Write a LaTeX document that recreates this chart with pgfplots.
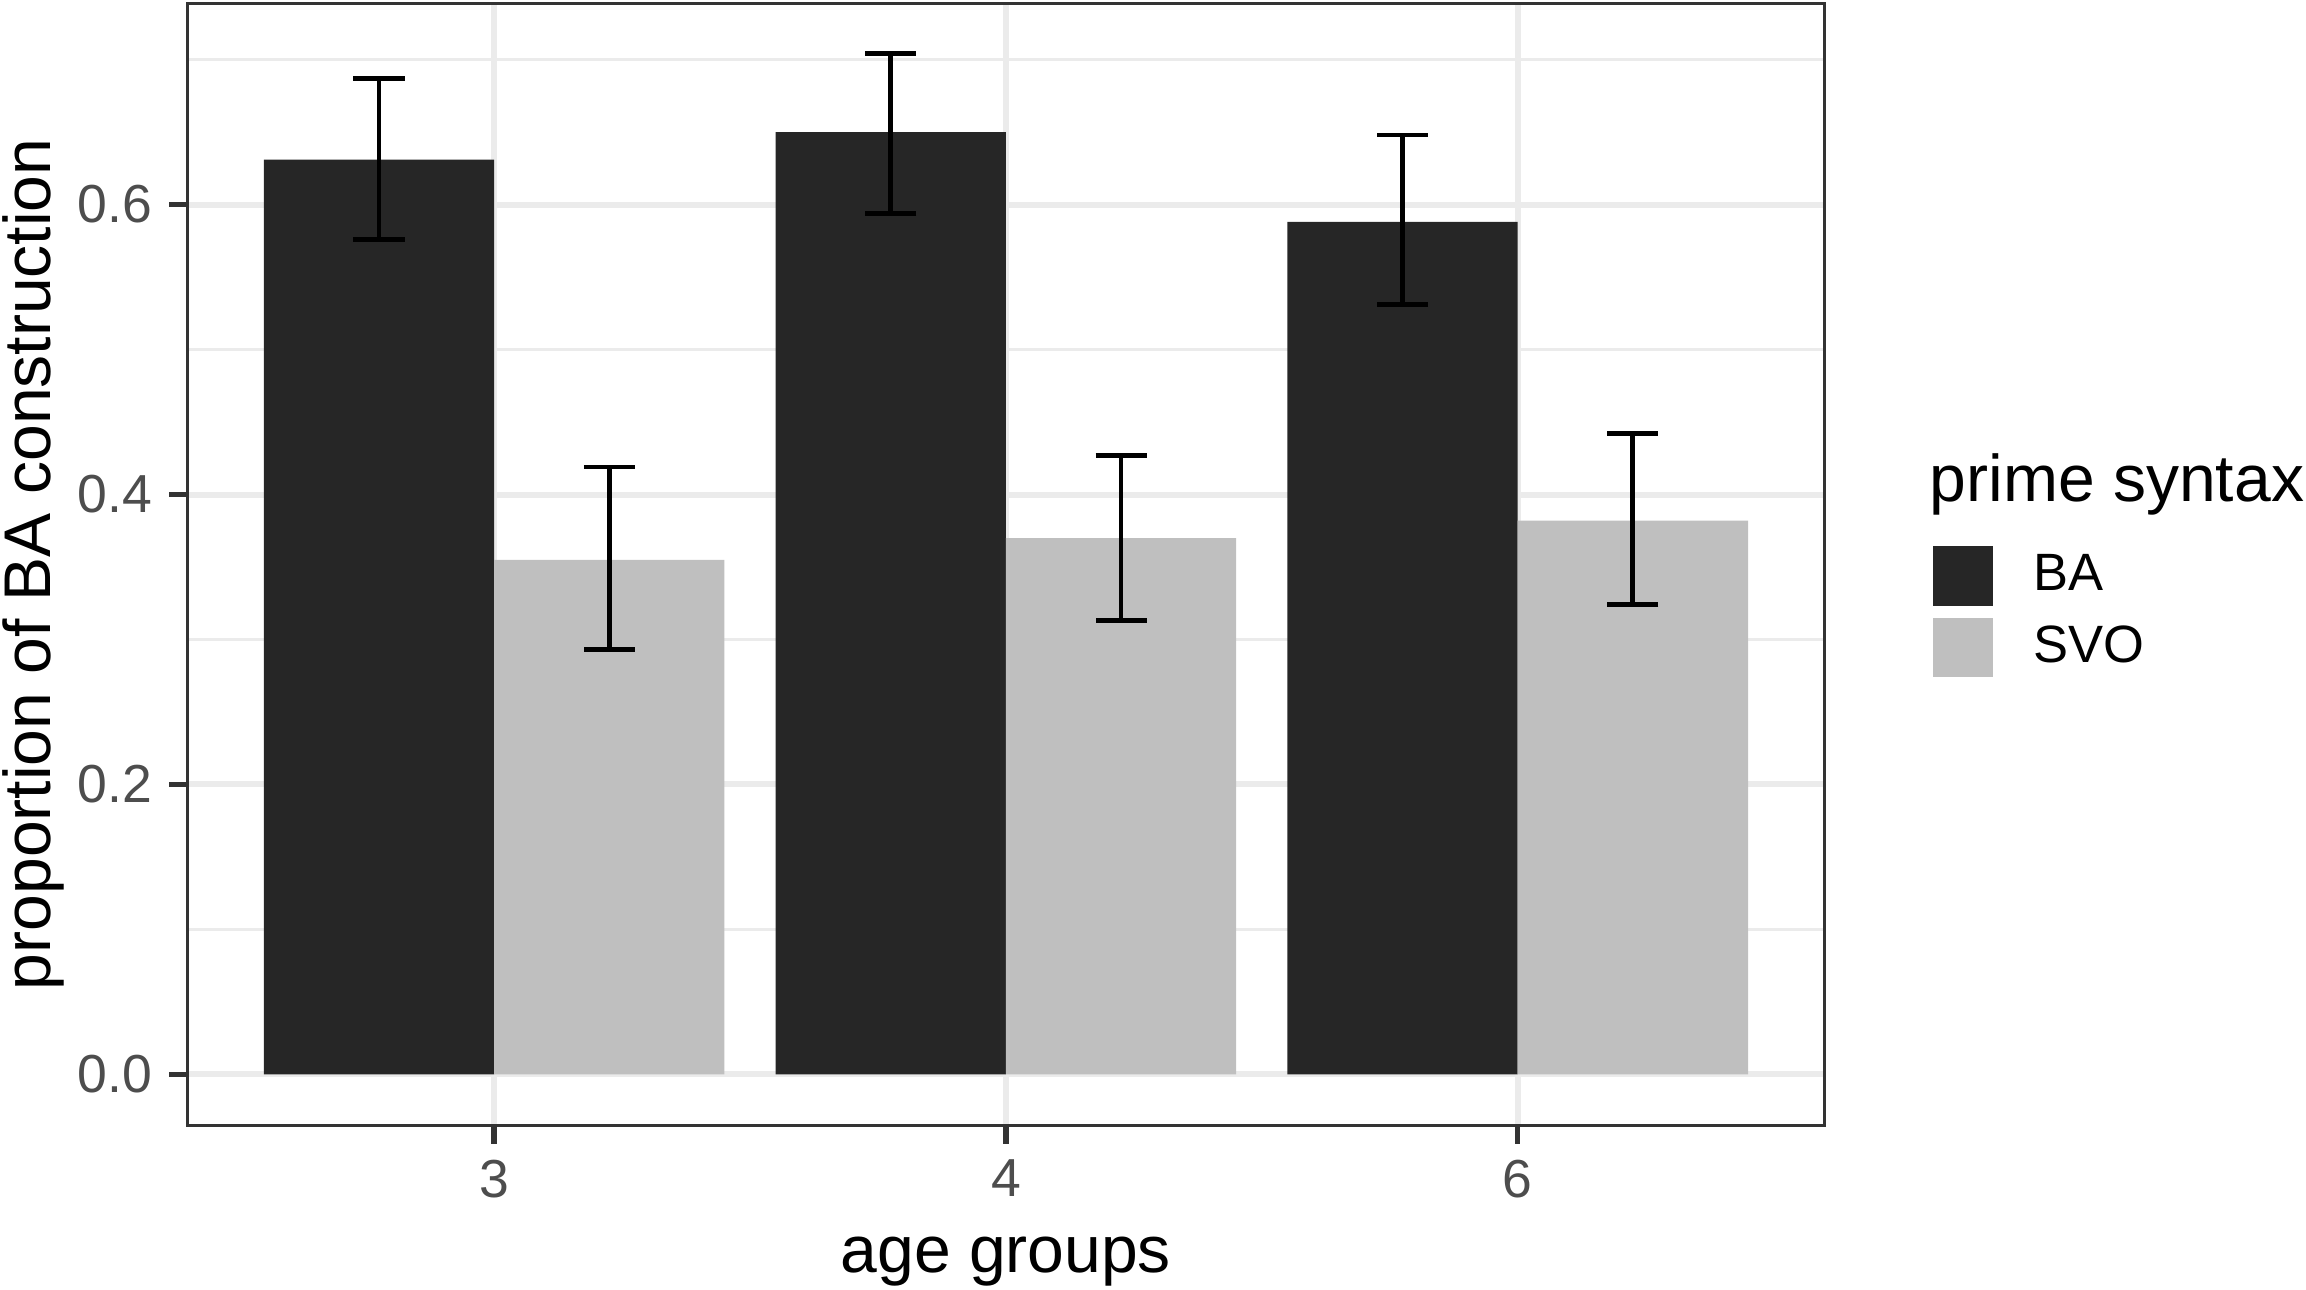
\documentclass[border=0pt]{standalone}
\usepackage{pgfplots}
\pgfplotsset{compat=1.18}
\usepackage{fontspec}
\setmainfont{Liberation Sans}
\definecolor{badark}{HTML}{262626}
\definecolor{svolight}{HTML}{BFBFBF}
\definecolor{gridgrey}{HTML}{EBEBEB}
\definecolor{grey20}{HTML}{333333}
\definecolor{grey30}{HTML}{4D4D4D}
\newcommand{\ticksize}{\fontsize{10.7}{12}\selectfont}
\newcommand{\titlesize}{\fontsize{13.2}{15}\selectfont}
\newcommand{\legsize}{\fontsize{10.5}{12}\selectfont}
\begin{document}
\begin{tikzpicture}
\path[use as bounding box] (-37.4pt,-32.8pt) rectangle (423.6pt,225.0pt);
\begin{axis}[
  name=ax,
  at={(0pt,0pt)}, anchor=south west,
  scale only axis, width=327.4pt, height=224.4pt,
  xmin=0.4, xmax=3.6, ymin=-0.0352, ymax=0.739,
  xtick={1,2,3}, xticklabels={3,4,6},
  ytick={0,0.2,0.4,0.6}, yticklabels={0.0,0.2,0.4,0.6},
  minor ytick={0.1,0.3,0.5,0.7},
  /pgf/number format/assume math mode=true,
  tick pos=left, tick align=outside,
  major tick length=3.6pt, minor tick length=0pt,
  major tick style={grey20, line width=1.07pt},
  axis line style={grey20, line width=0.6pt},
  xmajorgrids, ymajorgrids, yminorgrids,
  major grid style={gridgrey, line width=1.2pt},
  minor grid style={gridgrey, line width=0.6pt},
  ticklabel style={font=\ticksize, text=grey30, inner sep=0pt},
  xticklabel style={anchor=north, yshift=-3.1pt},
  yticklabel style={anchor=east, xshift=-3.2pt},
  xlabel={age groups},
  ylabel={proportion of BA construction},
  label style={font=\titlesize, inner sep=0pt},
  xlabel style={at={([yshift=-29.3pt]axis description cs:0.5,0)}, anchor=base},
  ylabel style={at={([xshift=-27.4pt]axis description cs:0,0.5)}, anchor=base, rotate=0},
  ybar, bar width=0.45, bar shift=0pt,
  legend cell align=left,
  legend image code/.code={\fill[#1] (0pt,-5.95pt) rectangle (12pt,5.95pt);},
  legend style={draw=none, fill=none, inner sep=0pt, outer sep=0pt,
    anchor=north west, at={([xshift=21.6pt,yshift=115.8pt]axis description cs:1,0)},
    font=\legsize, row sep=2.4pt, column sep=8.1pt, nodes={inner sep=0pt}},
  error bars/error mark=|,
  error bars/error bar style={black, line width=0.95pt},
  error bars/error mark options={black, line width=0.95pt, mark size=5.1pt},
]
\addplot[fill=badark, draw=none,
  error bars/.cd, y dir=both, y explicit]
  table[x=x, y=y, y error plus=ep, y error minus=em] {
x      y      ep     em
0.775  0.631  0.056  0.055
1.775  0.650  0.054  0.056
2.775  0.588  0.060  0.057
};
\addlegendentry{BA}
\addplot[fill=svolight, draw=none,
  error bars/.cd, y dir=both, y explicit]
  table[x=x, y=y, y error plus=ep, y error minus=em] {
x      y      ep     em
1.225  0.355  0.064  0.062
2.225  0.370  0.057  0.057
3.225  0.382  0.060  0.058
};
\addlegendentry{SVO}
\end{axis}
\node[anchor=base west, inner sep=0pt, font=\titlesize]
  at ([xshift=20.8pt,yshift=124.7pt]ax.south east) {prime syntax};
\end{tikzpicture}
\end{document}
